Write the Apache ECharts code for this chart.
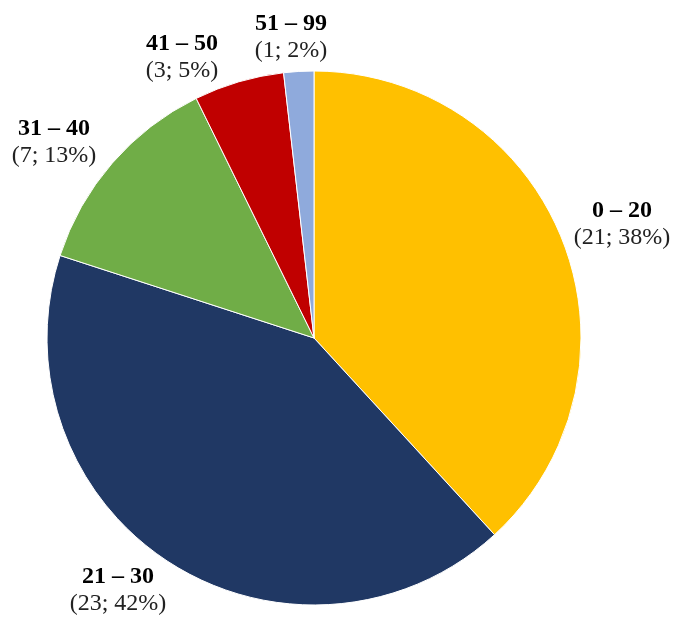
<!DOCTYPE html>
<html><head><meta charset="utf-8">
<script src="https://cdn.jsdelivr.net/npm/echarts@6/dist/echarts.min.js"></script>
<style>html,body{margin:0;padding:0;background:#fff}#c{width:683px;height:626px}</style>
</head><body><div id="c"></div>
<script>
const categories = ['0 – 20', '21 – 30', '31 – 40', '41 – 50', '51 – 99'];
const counts = [21, 23, 7, 3, 1];
const percents = ['38%', '42%', '13%', '5%', '2%'];
const colors = ['#FFC000', '#203864', '#70AD47', '#C00000', '#8FAADC'];
// label centre positions (layout only)
const labelPos = [[622, 224], [118, 590], [54, 142], [182, 57], [291, 37]];

const chart = echarts.init(document.getElementById('c'), null, {renderer: 'canvas'});
chart.setOption({
  animation: false,
  series: [{
    type: 'pie',
    center: [314, 338],
    radius: 267,
    startAngle: 90,
    clockwise: true,
    itemStyle: {borderColor: '#fff', borderWidth: 1},
    label: {
      show: true,
      position: 'outside',
      overflow: 'none',
      width: 200,
      formatter: p => '{b|' + p.name + '}\n{n|(' + counts[p.dataIndex] + '; ' + percents[p.dataIndex] + ')}',
      rich: {
        b: {fontFamily: 'Liberation Serif', fontWeight: 'bold', fontSize: 24, color: '#000', lineHeight: 27, align: 'center'},
        n: {fontFamily: 'Liberation Serif', fontSize: 24, color: '#222', lineHeight: 27, align: 'center'}
      }
    },
    labelLine: {show: false},
    labelLayout: p => ({x: labelPos[p.dataIndex][0], y: labelPos[p.dataIndex][1], align: 'center', verticalAlign: 'middle'}),
    emphasis: {disabled: true},
    data: categories.map((c, i) => ({name: c, value: counts[i], itemStyle: {color: colors[i]}}))
  }]
});
</script></body></html>
